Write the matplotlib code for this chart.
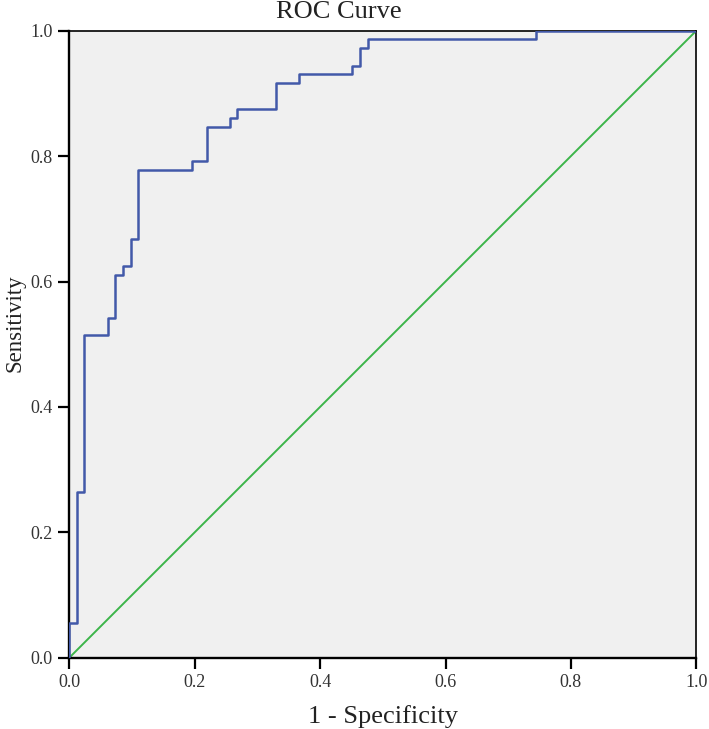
import matplotlib
matplotlib.use("Agg")
import matplotlib.pyplot as plt

# ROC curve corner points (1 - specificity, sensitivity)
fpr = [0.0, 0.0, 0.012, 0.024, 0.061, 0.073, 0.085, 0.098, 0.110, 0.195,
       0.220, 0.256, 0.268, 0.329, 0.366, 0.451, 0.463, 0.476, 0.744, 1.0]
tpr = [0.0, 0.056, 0.264, 0.514, 0.542, 0.611, 0.625, 0.667, 0.778, 0.792,
       0.847, 0.861, 0.875, 0.917, 0.931, 0.944, 0.972, 0.986, 1.0, 1.0]
ref_line = [0.0, 1.0]
ticks = [0.0, 0.2, 0.4, 0.6, 0.8, 1.0]
tick_labels = ["0.0", "0.2", "0.4", "0.6", "0.8", "1.0"]

plt.rcParams['font.family'] = ['Liberation Serif', 'DejaVu Serif']

fig = plt.figure(figsize=(7.09, 7.29), dpi=100)
ax = fig.add_axes([69.3 / 709, 71.3 / 729, 627 / 709, 627 / 729])
ax.set_facecolor('#f0f0f0')

ax.plot(ref_line, ref_line, color='#3cb54a', lw=1.4, zorder=2)
ax.step(fpr, tpr, where='post', color='#4259a9', lw=1.8, zorder=3)

ax.set_xlim(0, 1)
ax.set_ylim(0, 1)
ax.set_xticks(ticks)
ax.set_xticklabels(tick_labels)
ax.set_yticks(ticks)
ax.set_yticklabels(tick_labels)
ax.tick_params(direction='out', length=8, width=1.6, labelsize=13,
               colors='black', labelcolor='#333333', pad=4)

for side in ['left', 'bottom']:
    ax.spines[side].set_linewidth(1.7)
for side in ['top', 'right']:
    ax.spines[side].set_linewidth(1.2)

fig.text(339 / 709, 1 - 12 / 729, 'ROC Curve', ha='center', va='center',
         fontsize=19, color='#222222')
fig.text(383 / 709, 6 / 729, '1 - Specificity', ha='center', va='baseline',
         fontsize=19, color='#222222')
fig.text(15 / 709, 1 - 323 / 729, 'Sensitivity', ha='center', va='center',
         rotation=90, fontsize=16.5, color='#222222')

fig.savefig('out.png', dpi=100)
